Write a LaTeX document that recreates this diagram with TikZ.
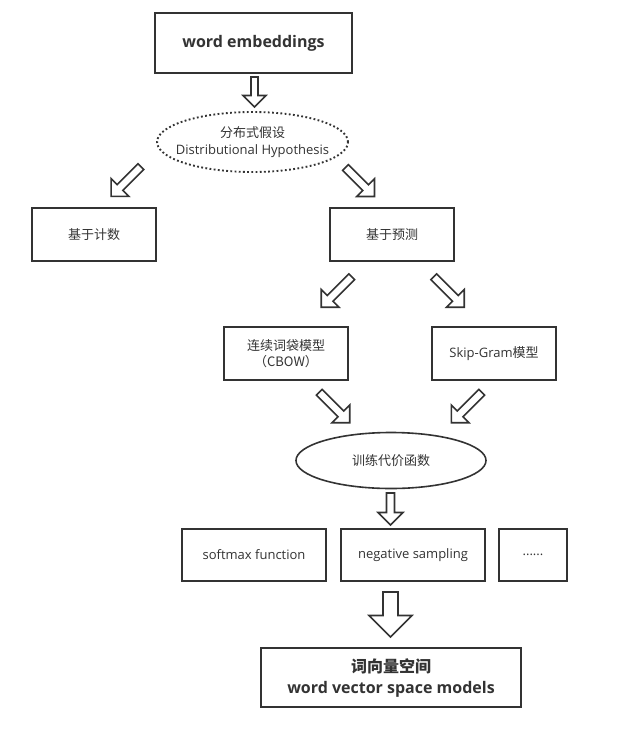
\documentclass[tikz,border=0pt]{standalone}
\usepackage{fontspec}
\setmainfont{Open Sans}
\newfontfamily\cjk{Noto Sans CJK SC}
\usepackage{tikz}
\usetikzlibrary{shapes.geometric,calc}
\definecolor{ink}{HTML}{333333}
% hollow block arrow: centre, angle, length, shaft width, head width
\newcommand{\blockarrow}[5]{\draw[barrow, shift={(#1)}, rotate=#2] ({-#3/2},{-#4/2}) -- ({#3/2-#5/2},{-#4/2}) -- ({#3/2-#5/2},{-#5/2}) -- ({#3/2},0) -- ({#3/2-#5/2},{#5/2}) -- ({#3/2-#5/2},{#4/2}) -- ({-#3/2},{#4/2}) -- cycle;}

\begin{document}
\begin{tikzpicture}[x=1pt, y=-1pt, box/.style={draw=ink, line width=1.6pt, minimum width=124, minimum height=53, align=center, text=ink, font=\fontsize{13}{16}\selectfont, fill=white}, bbox/.style={box, line width=2.2pt, font=\fontsize{16}{21}\selectfont\bfseries}, ell/.style={box, ellipse, minimum width=190, minimum height=56, inner xsep=-12pt, inner ysep=0pt}, barrow/.style={draw=ink, line width=1.6pt, fill=white, line join=miter}]
\useasboundingbox (0,0) rectangle (617,740);
\node[bbox, minimum width=197, minimum height=60] (emb) at (253.5,43) {word embeddings};
\node[ell, dash pattern=on 1.8pt off 2.4pt, line width=1.9pt, minimum width=191, minimum height=60, font=\fontsize{13}{17}\selectfont] (hyp) at (252.5,142) {{\cjk 分布式假设}\\Distributional Hypothesis};
\node[box] (count) at (94,234.5) {{\cjk 基于计数}};
\node[box] (pred) at (392,234.5) {{\cjk 基于预测}};
\node[box] (cbow) at (286,353.5) {{\cjk 连续词袋模型}\\{\cjk （CBOW）}};
\node[box] (skip) at (494,353.5) {Skip-Gram{\cjk 模型}};
\node[ell] (train) at (391,460.5) {{\cjk 训练代价函数}};
\node[box, minimum width=144, minimum height=52] (soft) at (254,555) {softmax function};
\node[box, minimum width=144, minimum height=52] (neg) at (413,555) {negative sampling};
\node[box, minimum width=68, minimum height=52] (etc) at (533,555) {......};
\node[bbox, line width=1.8pt, minimum width=260, minimum height=59] (wvs) at (391,677.5) {{\cjk 词向量空间}\\word vector space models};
% block arrows between the levels
\blockarrow{254.5,92}{-90}{30}{7}{23}
\blockarrow{126,181.5}{-135}{42}{8}{25} \blockarrow{360,182}{-45}{41}{8}{25}
\blockarrow{336.5,292}{-135}{43}{8}{25} \blockarrow{449,292}{-45}{43}{8}{25}
\blockarrow{334.5,407.5}{-45}{43}{8}{25} \blockarrow{466.5,407.5}{-135}{43}{8}{25}
\blockarrow{390.5,509}{-90}{32}{8}{25}
\blockarrow{390.5,614.5}{-90}{45}{15}{43}
\end{tikzpicture}
\end{document}
